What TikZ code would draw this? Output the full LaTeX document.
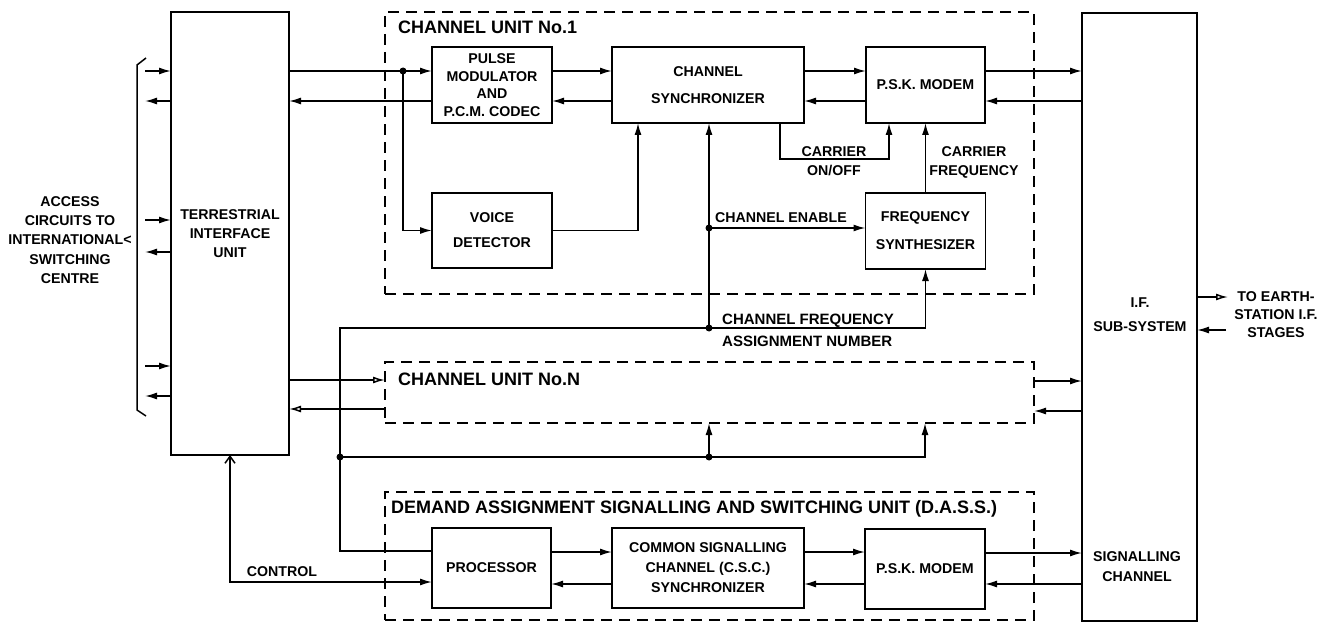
\documentclass[tikz,border=0pt]{standalone}
\usepackage{fontspec}
\setmainfont{Liberation Sans}
\usetikzlibrary{arrows.meta,calc}
\newcommand\lblfont{\bfseries\fontsize{14.2}{19}\selectfont}
\newcommand\ttlfont{\bfseries\fontsize{18}{22}\selectfont}
\begin{document}
\begin{tikzpicture}[x=1pt,y=-1pt,
 box/.style={draw,line width=1.7pt,inner sep=0pt,outer sep=0pt,align=center,font=\lblfont},
 dbox/.style={draw,line width=1.5pt,dash pattern=on 11pt off 7pt,inner sep=0pt,outer sep=0pt},
 ln/.style={line width=1.5pt},
 arr/.style={line width=1.5pt,-{Latex[length=12pt,width=7pt]}},
 oarr/.style={line width=1.5pt,-{Latex[open,length=12pt,width=7pt]}},
 dot/.style={circle,fill,inner sep=0pt,minimum size=7pt},
 txt/.style={inner sep=0pt,align=center,font=\lblfont},
 ttl/.style={inner sep=0pt,anchor=base west,font=\ttlfont}]
\useasboundingbox (0,0) rectangle (1336,623);
% dashed units
\node[dbox,minimum width=649pt,minimum height=282pt] (cu1) at (709.5,153) {};
\node[dbox,minimum width=649pt,minimum height=61pt] (cun) at (709.5,392.5) {};
\node[dbox,minimum width=649pt,minimum height=128pt] (dass) at (709.5,556) {};
\node[ttl] (t1) at (398,34) {CHANNEL UNIT No.1};
\node[ttl] (tn) at (398,385) {CHANNEL UNIT No.N};
\node[ttl] (td) at (391,513) {DEMAND ASSIGNMENT SIGNALLING AND SWITCHING UNIT (D.A.S.S.)};
% blocks
\node[box,minimum width=118pt,minimum height=443pt] (tiu) at (230,233.5) {TERRESTRIAL\\INTERFACE\\UNIT};
\node[box,minimum width=120pt,minimum height=76pt,font=\bfseries\fontsize{14.2}{17.5}\selectfont] (pm) at (492,85) {PULSE\\MODULATOR\\AND\\P.C.M. CODEC};
\node[box,minimum width=192pt,minimum height=76pt] (cs) at (708,85) {CHANNEL\\[8pt]SYNCHRONIZER};
\node[box,minimum width=119pt,minimum height=76pt] (psk1) at (925.5,85) {P.S.K. MODEM};
\node[box,minimum width=120pt,minimum height=75pt] (vd) at (492,230.5) {VOICE\\[6pt]DETECTOR};
\node[box,minimum width=120pt,minimum height=76pt] (fs) at (925.5,231) {FREQUENCY\\[9pt]SYNTHESIZER};
\node[box,minimum width=115pt,minimum height=608pt] (if) at (1139.5,317) {};
\node[box,minimum width=119pt,minimum height=80pt] (proc) at (491.5,568) {PROCESSOR};
\node[box,minimum width=192pt,minimum height=80pt,font=\bfseries\fontsize{14.2}{20}\selectfont] (csc) at (708,568) {COMMON SIGNALLING\\CHANNEL (C.S.C.)\\SYNCHRONIZER};
\node[box,minimum width=120pt,minimum height=80pt] (psk2) at (925,569) {P.S.K. MODEM};
% texts
\node[txt,font=\bfseries\fontsize{14.2}{19.3}\selectfont] (acc) at (70,240) {ACCESS\\CIRCUITS TO\\INTERNATIONAL<\\SWITCHING\\CENTRE};
\node[txt] (lco) at (834,161) {CARRIER\\ON/OFF};
\node[txt] (lcf) at (974,162) {CARRIER\\FREQUENCY};
\node[txt] (lce) at (781,218) {CHANNEL ENABLE};
\node[txt,align=left,anchor=west,font=\bfseries\fontsize{15}{22}\selectfont] (lcfan) at (722,330) {CHANNEL FREQUENCY\\ASSIGNMENT NUMBER};
\node[txt] (lctl) at (282,572) {CONTROL};
\node[txt,font=\bfseries\fontsize{14.2}{24}\selectfont] (lif) at (1140,315) {I.F.\\SUB-SYSTEM};
\node[txt,font=\bfseries\fontsize{14.2}{20}\selectfont] (lsc) at (1137,567) {SIGNALLING\\CHANNEL};
\node[txt,font=\bfseries\fontsize{14.2}{18}\selectfont] (lte) at (1276,315) {TO EARTH-\\STATION I.F.\\STAGES};
% row coordinates
\foreach \r in {71,101,220,252,366,396,159,380,409,411,381,551,552,553,582,584,297,330}
  {\coordinate (y\r) at (0,\r);}
\coordinate (bx) at (145,0);
\coordinate (x638) at (638,0);
\coordinate (x780) at (780,0);
\coordinate (x889) at (889,0);
\coordinate (x925) at (925,0);
\coordinate (c340) at (340,328);
\coordinate (ex) at (1228,297);
\coordinate (ei) at (1226,330);
% brace
\draw[ln] (146,58) -- (137,65) -- (137,410) -- (146,416);
% access arrows
\foreach \a/\b in {71/101,220/252,366/396}{
  \draw[arr] (bx |- y\a) -- (tiu.west |- y\a);
  \draw[arr] (tiu.west |- y\b) -- (bx |- y\b);
}
% channel unit 1
\node[dot] (j1) at (403,71) {};
\node[dot] (j2) at (709,228) {};
\node[dot] (j3) at (709,328) {};
\node[dot] (j5) at (340,457) {};
\node[dot] (j6) at (709,457) {};
\draw[arr] (tiu.east |- y71) -- (pm.west |- y71);
\draw[arr] (j1.center) |- (vd.west);
\draw[arr] (pm.west |- y101) -- (tiu.east |- y101);
\draw[arr] (pm.east |- y71) -- (cs.west |- y71);
\draw[arr] (cs.west |- y101) -- (pm.east |- y101);
\draw[arr] (cs.east |- y71) -- (psk1.west |- y71);
\draw[arr] (psk1.west |- y101) -- (cs.east |- y101);
\draw[arr] (psk1.east |- y71) -- (if.west |- y71);
\draw[arr] (if.west |- y101) -- (psk1.east |- y101);
\draw[arr] (vd.east) -| (cs.south -| x638);
\draw[arr] (j3.center) -- (j3 |- cs.south);
\draw[arr] (j2.center) -- (fs.west |- j2);
\draw[arr] (cs.south -| x780) -- (x780 |- y159) -| (psk1.south -| x889);
\draw[arr] (fs.north) -- (fs.north |- psk1.south);
\draw[arr] (proc.west |- y551) -| (c340) -- (c340 -| fs.south) -- (fs.south);
% channel unit N
\draw[arr] (j5.center) -| (cun.south -| x925);
\draw[arr] (j6.center) -- (j6 |- cun.south);
\draw[oarr] (tiu.east |- y380) -- (cun.west |- y380);
\draw[oarr] (cun.west |- y409) -- (tiu.east |- y409);
\draw[arr] (cun.east |- y381) -- (if.west |- y381);
\draw[arr] (if.west |- y411) -- (cun.east |- y411);
% control
\draw[line width=1.5pt,{Straight Barb[length=7pt,width=10pt]}-{Latex[length=12pt,width=7pt]}] (tiu.south) |- (proc.west |- y582);
% DASS
\draw[arr] (proc.east |- y552) -- (csc.west |- y552);
\draw[arr] (csc.west |- y584) -- (proc.east |- y584);
\draw[arr] (csc.east |- y552) -- (psk2.west |- y552);
\draw[arr] (psk2.west |- y584) -- (csc.east |- y584);
\draw[arr] (psk2.east |- y553) -- (if.west |- y553);
\draw[arr] (if.west |- y584) -- (psk2.east |- y584);
% earth station
\draw[oarr] (if.east |- ex) -- (ex);
\draw[arr] (ei) -- (if.east |- ei);
\end{tikzpicture}
\end{document}
